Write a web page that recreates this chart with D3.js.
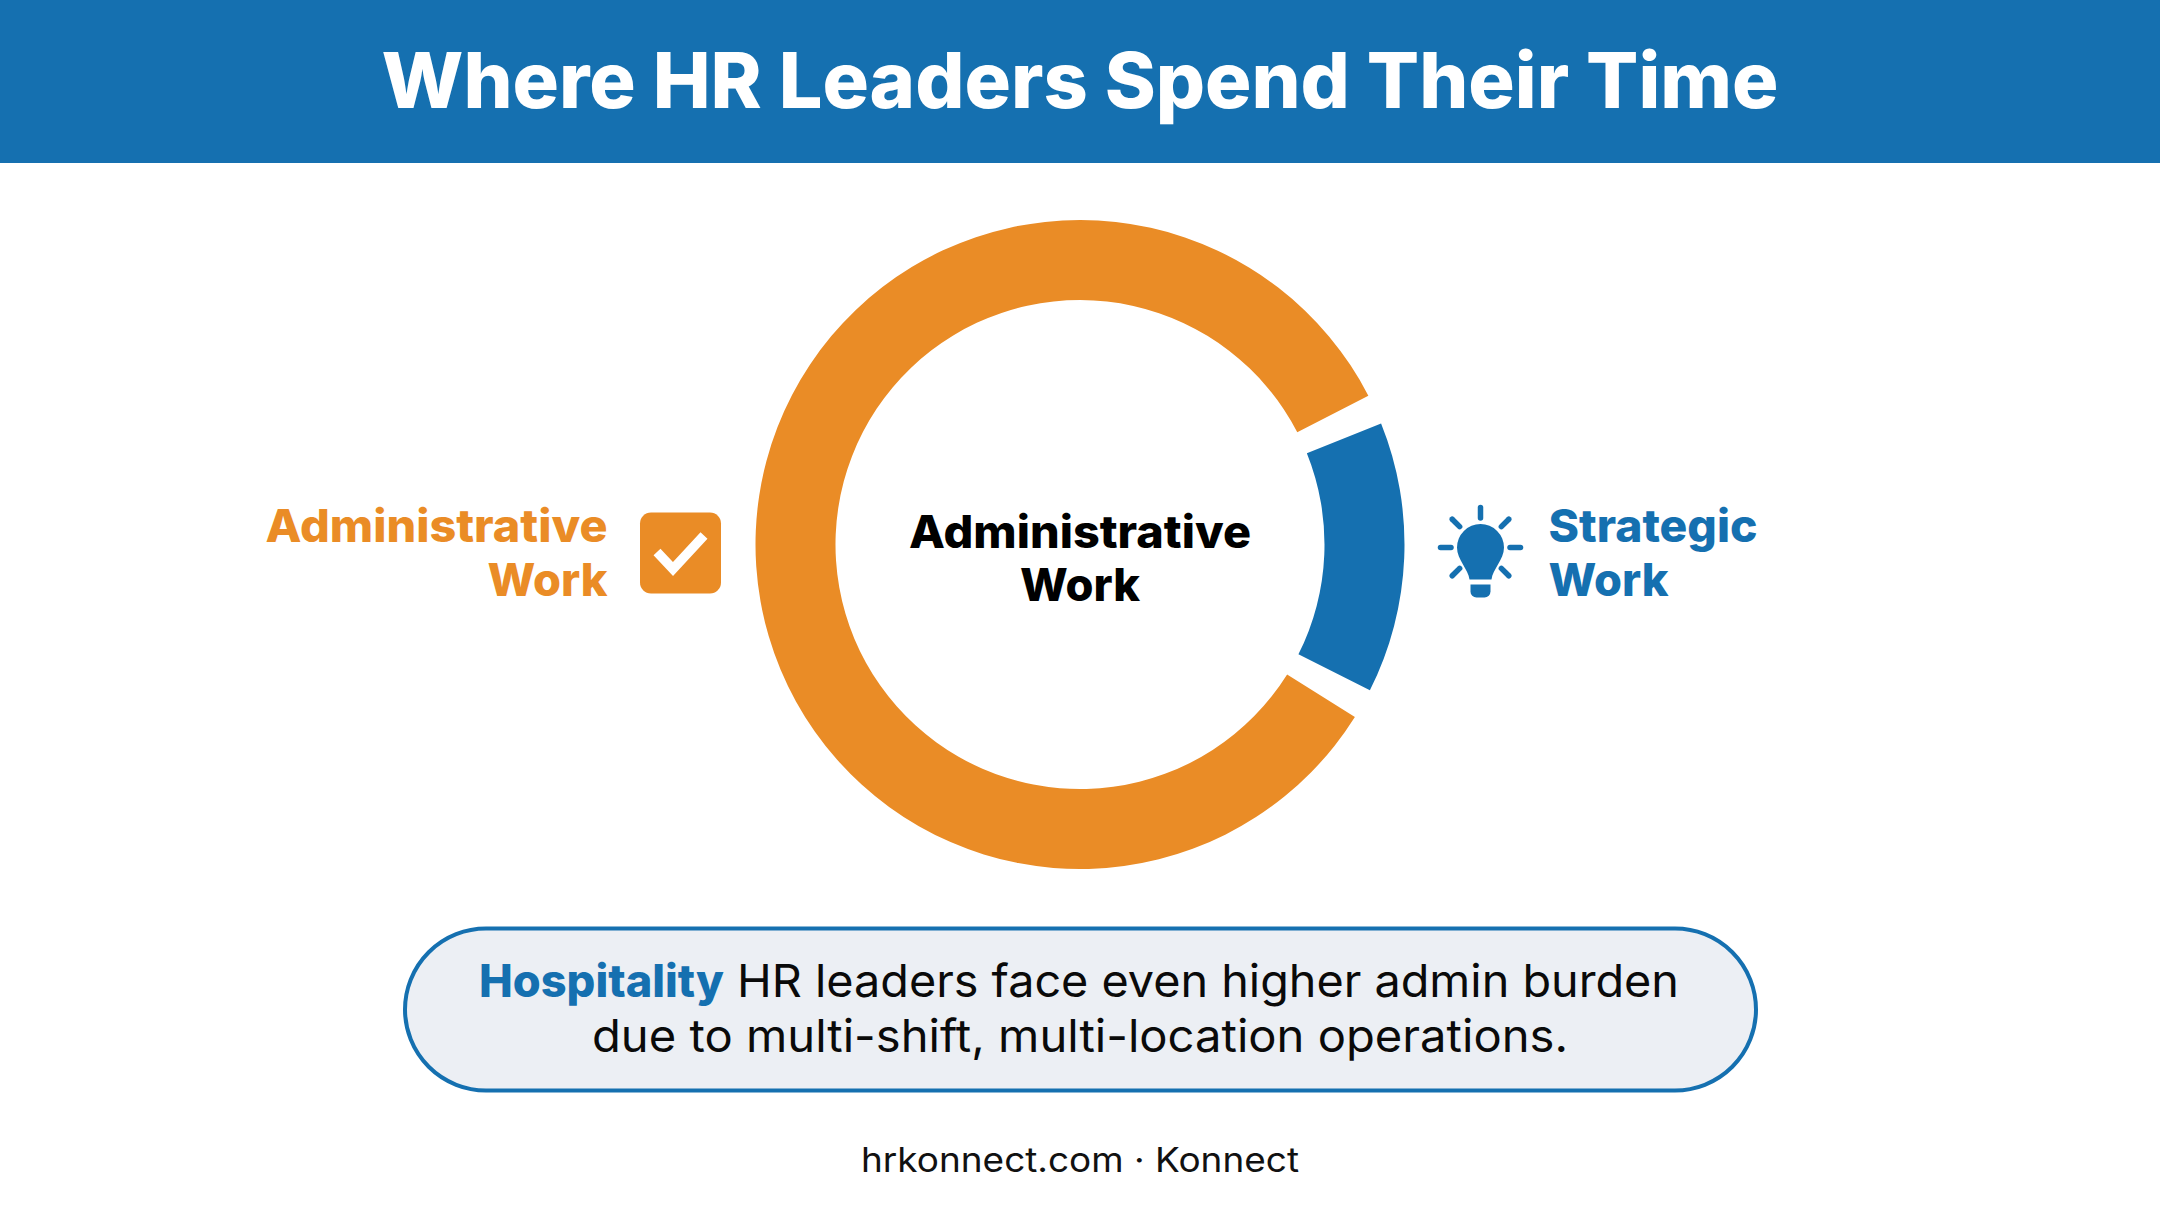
<!DOCTYPE html>
<html><head><meta charset="utf-8">
<script src="https://cdn.jsdelivr.net/npm/d3@7"></script>
<style>html,body{margin:0;padding:0;background:#fff}svg{display:block}text{font-family:Inter,"Noto Sans",sans-serif}</style>
</head><body><svg id="c" width="2160" height="1206"></svg>
<script>
const categories = ["Strategic Work", "Administrative Work"];
const values = [15, 85];
const sliceColors = ["#1570B0", "#EA8C26"];
const title = "Where HR Leaders Spend Their Time";
const centerLines = ["Administrative", "Work"];
const adminLines = ["Administrative", "Work"];
const strategicLines = ["Strategic", "Work"];
const noteLead = "Hospitality";
const noteRest = "HR leaders face even higher admin burden";
const noteLine2 = "due to multi-shift, multi-location operations.";
const footer = "hrkonnect.com · Konnect";

const blue = "#1570B0", orange = "#EA8C26";
const svg = d3.select("#c");
svg.append("rect").attr("width",2160).attr("height",1206).attr("fill","#fff");
svg.append("rect").attr("width",2160).attr("height",163).attr("fill",blue);

function fit(sel,w){ sel.attr("textLength",w).attr("lengthAdjust","spacingAndGlyphs"); return sel; }
function txt(x,y,s,size,weight,fill,anchor,w){
  const t = svg.append("text").attr("x",x).attr("y",y).attr("font-size",size).attr("font-weight",weight)
    .attr("fill",fill).attr("text-anchor",anchor).text(s);
  if(w) fit(t,w);
  return t;
}
txt(1080,107.5,title,77,800,"#fff","middle",1397);

// donut
const cx=1080, cy=544.5, deg=Math.PI/180, gap=5.4*deg;
const pie = d3.pie().sort(null).value(d=>d).startAngle(65.4*deg).endAngle(425.4*deg);
const arc = d3.arc().innerRadius(244.5).outerRadius(324.5)
  .startAngle(d=>d.startAngle+gap/2).endAngle(d=>d.endAngle-gap/2);
const g = svg.append("g").attr("transform",`translate(${cx},${cy})`);
g.selectAll("path").data(pie(values)).join("path").attr("d",arc).attr("fill",(d,i)=>sliceColors[i])
  .append("title").text((d,i)=>categories[i]);

// centre label
txt(1080,547.5,centerLines[0],45,800,"#000","middle",342);
txt(1080,601,centerLines[1],45,800,"#000","middle",120);

// left legend
txt(607.5,542,adminLines[0],45,800,orange,"end",342);
txt(607.5,596,adminLines[1],45,800,orange,"end",120);
svg.append("rect").attr("x",640).attr("y",512.5).attr("width",81).attr("height",81).attr("rx",11).attr("fill",orange);
svg.append("path").attr("d",d3.line()([[657,552],[673,569],[704,535.5]])).attr("fill","none").attr("stroke","#fff").attr("stroke-width",9.5);

// right legend
const bx=1480.5, by=547.5;
const bulb = svg.append("g").attr("transform",`translate(${bx},${by})`);
d3.range(8).filter(i=>i!==4).forEach(i=>{
  const a=i*45*deg;
  bulb.append("line").attr("x1",29.5*Math.sin(a)).attr("y1",-29.5*Math.cos(a)).attr("x2",40*Math.sin(a)).attr("y2",-40*Math.cos(a))
    .attr("stroke",blue).attr("stroke-width",5.5).attr("stroke-linecap","round");
});
bulb.append("path").attr("fill",blue).attr("d","M-11,32 C-12,22 -23.5,12 -23.5,0 A23.5,23.5 0 0 1 23.5,0 C23.5,12 12,22 11,32 Z");
bulb.append("path").attr("fill",blue).attr("d","M-10,37 H10 V44 A6,6 0 0 1 4,50 H-4 A6,6 0 0 1 -10,44 Z");
txt(1548.5,542,strategicLines[0],45,800,blue,"start",209);
txt(1548.5,596,strategicLines[1],45,800,blue,"start",120);

// callout
svg.append("rect").attr("x",405).attr("y",928.5).attr("width",1351).attr("height",162).attr("rx",81)
  .attr("fill","#ECEFF4").attr("stroke",blue).attr("stroke-width",4);
txt(479,997,noteLead,45,800,blue,"start",245);
txt(737,997,noteRest,45,400,"#0a0a0a","start",942);
txt(1080,1052,noteLine2,45,400,"#0a0a0a","middle",976);
txt(1080,1172,footer,34,400,"#111","middle",438);
</script></body></html>
